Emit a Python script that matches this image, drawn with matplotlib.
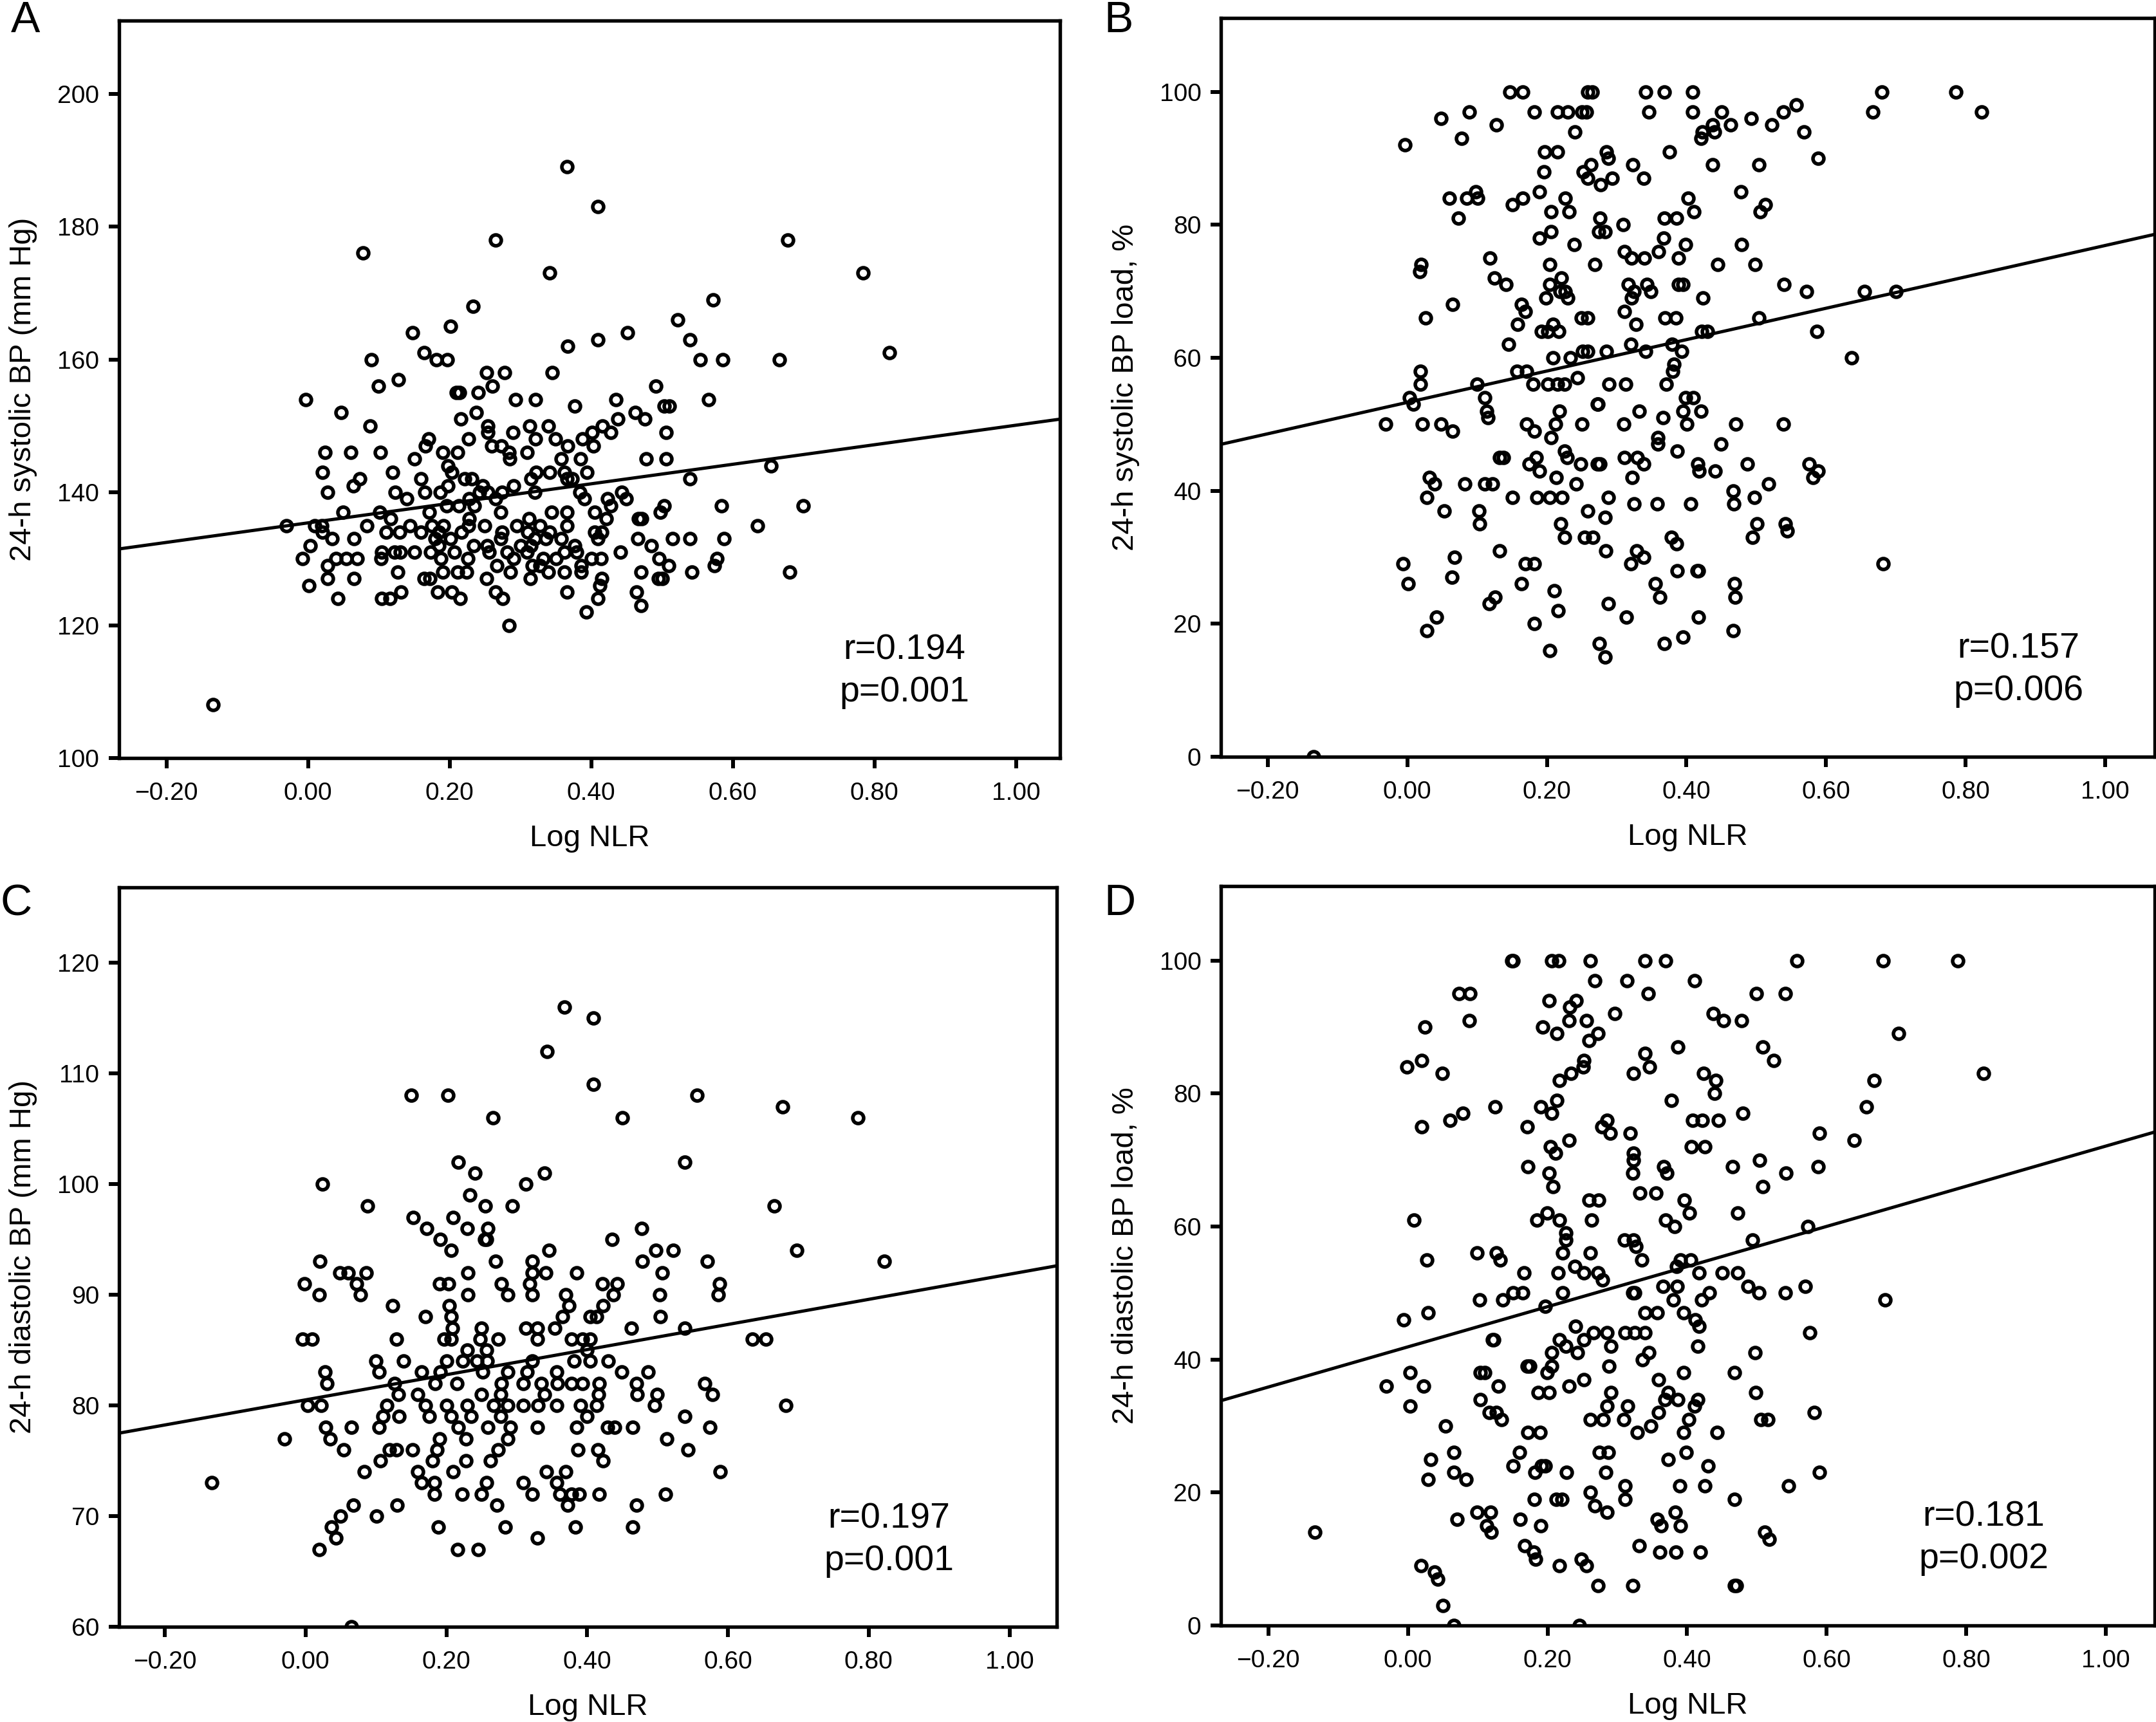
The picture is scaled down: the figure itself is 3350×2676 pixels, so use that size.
import matplotlib
matplotlib.use("Agg")
import matplotlib.pyplot as plt
import numpy as np
from matplotlib.ticker import FuncFormatter

plt.rcParams['font.family'] = ['Liberation Sans', 'DejaVu Sans']

# ---- panel A: 24-h systolic BP (mm Hg) vs Log NLR
a_x = [0.366, 0.409, 0.265, 0.078, 0.678, 0.784, 0.341, 0.233, 0.572, 0.201,
       0.148, 0.522, 0.539, 0.451, 0.409, 0.367, 0.821, 0.089, 0.164, 0.181,
       0.197, 0.554, 0.586, 0.666, 0.099, 0.128, 0.252, 0.278, 0.260, 0.345,
       -0.003, 0.209, 0.214, 0.240, 0.293, 0.321, 0.377, 0.435, 0.491, 0.503,
       0.510, 0.566, 0.047, 0.462, 0.476, 0.238, 0.216, 0.088, 0.254, 0.254,
       0.313, 0.339, 0.289, 0.416, 0.438, 0.428, 0.401, 0.506, 0.227, 0.321,
       0.349, 0.388, 0.170, 0.166, 0.259, 0.273, 0.367, 0.403, 0.024, 0.060,
       0.102, 0.190, 0.211, 0.284, 0.309, 0.150, 0.285, 0.358, 0.385, 0.478,
       0.506, 0.198, 0.020, 0.119, 0.203, 0.322, 0.341, 0.362, 0.394, 0.654,
       0.073, 0.064, 0.159, 0.221, 0.231, 0.315, 0.366, 0.373, 0.539, 0.247,
       0.290, 0.198, 0.028, 0.123, 0.165, 0.187, 0.242, 0.254, 0.274, 0.320,
       0.384, 0.443, 0.139, 0.228, 0.265, 0.390, 0.423, 0.449, 0.584, 0.699,
       0.503, 0.196, 0.213, 0.235, 0.049, 0.101, 0.171, 0.272, 0.344, 0.366,
       0.405, 0.428, 0.498, 0.117, 0.228, 0.312, 0.467, 0.471, -0.031, 0.009,
       0.019, 0.083, 0.144, 0.175, 0.191, 0.227, 0.249, 0.295, 0.328, 0.366,
       0.421, 0.635, 0.020, 0.110, 0.129, 0.159, 0.185, 0.217, 0.274, 0.310,
       0.341, 0.405, 0.415, 0.034, 0.065, 0.179, 0.201, 0.272, 0.320, 0.336,
       0.358, 0.409, 0.466, 0.515, 0.539, 0.588, 0.003, 0.185, 0.234, 0.253,
       0.300, 0.315, 0.377, 0.485, 0.104, 0.122, 0.130, 0.150, 0.173, 0.207,
       0.256, 0.281, 0.309, 0.362, 0.379, 0.441, -0.008, 0.039, 0.054, 0.069,
       0.103, 0.188, 0.226, 0.290, 0.332, 0.350, 0.400, 0.414, 0.496, 0.578,
       0.028, 0.267, 0.317, 0.328, 0.386, 0.509, 0.574, 0.190, 0.211, 0.224,
       0.286, 0.339, 0.362, 0.386, 0.127, 0.470, 0.542, 0.680, 0.028, 0.065,
       0.164, 0.172, 0.252, 0.314, 0.415, 0.495, 0.500, 0.001, 0.412, 0.183,
       0.203, 0.265, 0.366, 0.464, 0.131, 0.042, 0.104, 0.116, 0.215, 0.275,
       0.409, 0.470, 0.393, 0.284, -0.134]
a_y = [189, 183, 178, 176, 178, 173, 173, 168, 169, 165,
       164, 166, 163, 164, 163, 162, 161, 160, 161, 160,
       160, 160, 160, 160, 156, 157, 158, 158, 156, 158,
       154, 155, 155, 155, 154, 154, 153, 154, 156, 153,
       153, 154, 152, 152, 151, 152, 151, 150, 150, 149,
       150, 150, 149, 150, 151, 149, 149, 149, 148, 148,
       148, 148, 148, 147, 147, 147, 147, 147, 146, 146,
       146, 146, 146, 146, 146, 145, 145, 145, 145, 145,
       145, 144, 143, 143, 143, 143, 143, 143, 143, 144,
       142, 141, 142, 142, 142, 142, 142, 142, 142, 141,
       141, 141, 140, 140, 140, 140, 140, 140, 140, 140,
       140, 140, 139, 139, 139, 139, 139, 139, 138, 138,
       138, 138, 138, 138, 137, 137, 137, 137, 137, 137,
       137, 138, 137, 136, 136, 136, 136, 136, 135, 135,
       135, 135, 135, 135, 135, 135, 135, 135, 135, 135,
       136, 135, 134, 134, 134, 134, 134, 134, 134, 134,
       134, 134, 134, 133, 133, 133, 133, 133, 133, 133,
       133, 133, 133, 133, 133, 133, 132, 132, 132, 132,
       132, 132, 132, 132, 131, 131, 131, 131, 131, 131,
       131, 131, 131, 131, 131, 131, 130, 130, 130, 130,
       130, 130, 130, 130, 130, 130, 130, 130, 130, 130,
       129, 129, 129, 129, 129, 129, 129, 128, 128, 128,
       128, 128, 128, 128, 128, 128, 128, 128, 127, 127,
       127, 127, 127, 127, 127, 127, 127, 126, 126, 125,
       125, 125, 125, 125, 125, 124, 124, 124, 124, 124,
       124, 123, 122, 120, 108]

# ---- panel B: 24-h systolic BP load (%), grouped by load value
b_levels = [100, 98, 97, 96, 95, 94, 93, 92, 91, 90, 89, 88, 87, 86, 85, 84, 83, 82,
            81, 80, 79, 78, 77, 76, 75, 74, 73, 72, 71, 70, 69, 68, 67, 66, 65, 64,
            62, 61, 60, 59, 58, 57, 56, 54, 53, 52, 51, 50, 49, 48, 47, 46, 45, 44,
            43, 42, 41, 40, 39, 38, 37, 36, 35, 34, 33, 32, 31, 30, 29, 28, 27, 26,
            25, 24, 23, 22, 21, 20, 19, 18, 17, 16, 15, 0]
b_groups = [
    [0.147, 0.165, 0.259, 0.265, 0.342, 0.368, 0.409, 0.680, 0.786],
    [0.557],
    [0.089, 0.182, 0.215, 0.230, 0.250, 0.257, 0.346, 0.409, 0.450, 0.667, 0.823, 0.539],
    [0.048, 0.493],
    [0.128, 0.463, 0.522, 0.437],
    [0.423, 0.440, 0.240, 0.568],
    [0.421, 0.078],
    [-0.003],
    [0.197, 0.215, 0.285, 0.376],
    [0.288, 0.589],
    [0.263, 0.323, 0.437, 0.504],
    [0.196, 0.252],
    [0.259, 0.294, 0.339],
    [0.277],
    [0.189, 0.478, 0.098],
    [0.060, 0.085, 0.101, 0.165, 0.226, 0.402],
    [0.151, 0.513],
    [0.206, 0.232, 0.411, 0.506],
    [0.073, 0.276, 0.368, 0.386],
    [0.309],
    [0.274, 0.283, 0.206],
    [0.189, 0.367],
    [0.239, 0.399, 0.479],
    [0.311, 0.360],
    [0.118, 0.321, 0.340, 0.389],
    [0.020, 0.204, 0.269, 0.445, 0.498],
    [0.018],
    [0.125, 0.221],
    [0.141, 0.204, 0.317, 0.343, 0.389, 0.395, 0.540],
    [0.219, 0.226, 0.325, 0.349, 0.572, 0.655, 0.700],
    [0.199, 0.230, 0.321, 0.424],
    [0.065, 0.164],
    [0.169, 0.311],
    [0.026, 0.249, 0.259, 0.369, 0.385, 0.504],
    [0.158, 0.209, 0.328],
    [0.192, 0.201, 0.217, 0.422, 0.430, 0.587],
    [0.145, 0.320, 0.379],
    [0.251, 0.259, 0.285, 0.342, 0.393],
    [0.209, 0.234, 0.637],
    [0.382],
    [0.157, 0.171, 0.019, 0.380],
    [0.244],
    [0.100, 0.180, 0.201, 0.215, 0.225, 0.289, 0.313, 0.019, 0.371],
    [0.003, 0.111, 0.399, 0.410],
    [0.009, 0.272, 0.273],
    [0.218, 0.332, 0.395, 0.421, 0.114],
    [0.116, 0.366],
    [-0.031, 0.022, 0.048, 0.171, 0.212, 0.250, 0.310, 0.401, 0.471, 0.539],
    [0.065, 0.182],
    [0.206, 0.359],
    [0.359, 0.449],
    [0.387, 0.225],
    [0.132, 0.138, 0.185, 0.229, 0.311, 0.330],
    [0.175, 0.248, 0.272, 0.276, 0.339, 0.416, 0.487, 0.576],
    [0.189, 0.418, 0.441, 0.589],
    [0.032, 0.213, 0.322, 0.581],
    [0.039, 0.082, 0.111, 0.122, 0.242, 0.518],
    [0.467],
    [0.028, 0.151, 0.186, 0.204, 0.222, 0.288, 0.497],
    [0.325, 0.358, 0.406, 0.468],
    [0.053, 0.103, 0.259],
    [0.283],
    [0.104, 0.220, 0.501, 0.542],
    [0.544],
    [0.225, 0.254, 0.266, 0.495, 0.378],
    [0.386],
    [0.132, 0.284, 0.329],
    [0.068, 0.339],
    [-0.006, 0.169, 0.182, 0.320, 0.682],
    [0.387, 0.415, 0.417],
    [0.064],
    [0.001, 0.164, 0.355, 0.469],
    [0.211],
    [0.126, 0.362, 0.470],
    [0.117, 0.288],
    [0.216],
    [0.042, 0.314, 0.417],
    [0.182],
    [0.028, 0.467],
    [0.395],
    [0.275, 0.368],
    [0.204],
    [0.283],
    [-0.134],
]

# ---- panel C: 24-h diastolic BP (mm Hg), grouped by BP value
c_levels = [116, 115, 112, 109, 108, 107, 106, 102, 101, 100, 99, 98, 97, 96, 95, 94,
            93, 92, 91, 90, 89, 88, 87, 86, 85, 84, 83, 82, 81, 80, 79, 78, 77, 76,
            75, 74, 73, 72, 71, 70, 69, 68, 67, 60]
c_groups = [
    [0.368],
    [0.409],
    [0.343],
    [0.409],
    [0.150, 0.202, 0.556],
    [0.678],
    [0.266, 0.450, 0.785],
    [0.539, 0.217],
    [0.241, 0.339],
    [0.313, 0.024],
    [0.233],
    [0.255, 0.294, 0.088, 0.666],
    [0.153, 0.210],
    [0.172, 0.230, 0.259, 0.477],
    [0.191, 0.254, 0.257, 0.435],
    [0.207, 0.346, 0.498, 0.522, 0.698],
    [0.020, 0.270, 0.322, 0.478, 0.571, 0.822],
    [0.049, 0.061, 0.086, 0.231, 0.322, 0.341, 0.385, 0.507],
    [-0.002, 0.072, 0.190, 0.203, 0.278, 0.318, 0.422, 0.443, 0.588],
    [0.019, 0.078, 0.231, 0.287, 0.322, 0.370, 0.437, 0.503, 0.586],
    [0.124, 0.204, 0.374, 0.423],
    [0.170, 0.207, 0.365, 0.404, 0.413, 0.504],
    [0.209, 0.250, 0.313, 0.329, 0.354, 0.463, 0.539],
    [-0.004, 0.009, 0.129, 0.197, 0.207, 0.248, 0.274, 0.329, 0.378, 0.393, 0.404,
     0.635, 0.654],
    [0.230, 0.257, 0.400],
    [0.100, 0.139, 0.200, 0.223, 0.243, 0.258, 0.322, 0.381, 0.404, 0.430],
    [0.028, 0.104, 0.165, 0.191, 0.252, 0.287, 0.315, 0.357, 0.449, 0.487],
    [0.030, 0.126, 0.184, 0.215, 0.278, 0.309, 0.335, 0.358, 0.378, 0.393, 0.417,
     0.470, 0.567],
    [0.132, 0.159, 0.250, 0.277, 0.339, 0.416, 0.471, 0.499, 0.578],
    [0.003, 0.022, 0.115, 0.170, 0.200, 0.230, 0.267, 0.287, 0.309, 0.330, 0.357,
     0.391, 0.413, 0.496, 0.682],
    [0.110, 0.133, 0.176, 0.207, 0.235, 0.277, 0.400, 0.539],
    [0.029, 0.065, 0.104, 0.217, 0.259, 0.291, 0.329, 0.385, 0.429, 0.439, 0.465, 0.574],
    [-0.030, 0.035, 0.190, 0.228, 0.287, 0.513],
    [0.054, 0.119, 0.129, 0.152, 0.187, 0.274, 0.387, 0.415, 0.543],
    [0.106, 0.180, 0.228, 0.263, 0.423],
    [0.083, 0.159, 0.210, 0.342, 0.370, 0.589],
    [-0.133, 0.165, 0.183, 0.257, 0.309, 0.357],
    [0.183, 0.222, 0.250, 0.322, 0.361, 0.378, 0.389, 0.417, 0.511],
    [0.068, 0.130, 0.272, 0.372, 0.470],
    [0.050, 0.101],
    [0.037, 0.189, 0.284, 0.383, 0.465],
    [0.043, 0.329],
    [0.019, 0.216, 0.245],
    [0.065],
]

# ---- panel D: 24-h diastolic BP load (%), grouped by load value
d_levels = [100, 97, 95, 94, 93, 92, 91, 90, 89, 88, 87, 86, 85, 84, 83, 82, 80, 79,
            78, 77, 76, 75, 74, 73, 72, 71, 70, 69, 68, 66, 65, 64, 62, 61, 60, 59,
            58, 57, 56, 55, 54, 53, 52, 51, 50, 49, 48, 47, 46, 45, 44, 43, 42, 41,
            40, 39, 38, 37, 36, 35, 34, 33, 32, 31, 30, 29, 26, 25, 24, 23, 22, 21,
            20, 19, 18, 17, 16, 15, 14, 13, 12, 11, 10, 9, 8, 7, 6, 3, 0]
d_groups = [
    [0.149, 0.151, 0.206, 0.216, 0.261, 0.340, 0.369, 0.557, 0.681, 0.788],
    [0.268, 0.314, 0.411],
    [0.073, 0.089, 0.344, 0.499, 0.541],
    [0.202, 0.241],
    [0.232],
    [0.296, 0.437],
    [0.088, 0.231, 0.256, 0.452, 0.478],
    [0.024, 0.193],
    [0.213, 0.272, 0.703],
    [0.259],
    [0.387, 0.508],
    [0.340],
    [0.020, 0.252, 0.524],
    [-0.002, 0.251, 0.346],
    [0.049, 0.234, 0.323, 0.424, 0.825],
    [0.217, 0.441, 0.668],
    [0.439],
    [0.213, 0.377],
    [0.125, 0.190, 0.657],
    [0.206, 0.079, 0.480],
    [0.060, 0.285, 0.408, 0.422, 0.445],
    [0.020, 0.171, 0.278],
    [0.290, 0.318, 0.590],
    [0.231, 0.639],
    [0.204, 0.406, 0.425],
    [0.211, 0.323],
    [0.323, 0.504],
    [0.172, 0.366, 0.465, 0.588],
    [0.202, 0.322, 0.371, 0.542],
    [0.208, 0.508],
    [0.332, 0.355],
    [0.259, 0.273, 0.396],
    [0.199, 0.403, 0.472],
    [0.009, 0.185, 0.217, 0.263, 0.369],
    [0.382, 0.573],
    [0.226],
    [0.310, 0.323, 0.494, 0.226],
    [0.327],
    [0.099, 0.127, 0.222, 0.261],
    [0.027, 0.132, 0.335, 0.390, 0.405],
    [0.239, 0.385],
    [0.166, 0.215, 0.252, 0.272, 0.417, 0.450, 0.472],
    [0.279],
    [0.365, 0.386, 0.487, 0.569],
    [0.151, 0.164, 0.222, 0.322, 0.325, 0.432, 0.503, 0.541],
    [0.103, 0.136, 0.380, 0.421, 0.684],
    [0.197],
    [0.029, 0.340, 0.357, 0.395],
    [-0.006, 0.412],
    [0.240, 0.417],
    [0.266, 0.285, 0.311, 0.325, 0.340, 0.576],
    [0.121, 0.123, 0.217, 0.252],
    [0.226, 0.291, 0.415],
    [0.206, 0.243, 0.345, 0.497],
    [0.336],
    [0.171, 0.175, 0.206, 0.288],
    [0.003, 0.104, 0.110, 0.199, 0.395, 0.468],
    [0.252, 0.359],
    [-0.031, 0.022, 0.129, 0.231],
    [0.187, 0.202, 0.291, 0.373, 0.498],
    [0.104, 0.368, 0.387, 0.415],
    [0.003, 0.285, 0.315, 0.411],
    [0.116, 0.127, 0.359, 0.582],
    [0.134, 0.261, 0.280, 0.309, 0.402, 0.506, 0.516],
    [0.054, 0.348],
    [0.172, 0.189, 0.329, 0.395, 0.443],
    [0.066, 0.160, 0.274, 0.287, 0.399],
    [0.033, 0.373],
    [0.151, 0.191, 0.197, 0.430],
    [0.066, 0.182, 0.227, 0.283, 0.590],
    [0.029, 0.083],
    [0.311, 0.389, 0.425, 0.545],
    [0.261],
    [0.181, 0.212, 0.221, 0.311, 0.468],
    [0.268],
    [0.099, 0.118, 0.285, 0.383],
    [0.070, 0.161, 0.357],
    [0.113, 0.190, 0.363, 0.390],
    [-0.133, 0.119, 0.511],
    [0.518],
    [0.167, 0.331],
    [0.180, 0.361, 0.384, 0.419],
    [0.183, 0.248],
    [0.019, 0.217, 0.256],
    [0.038],
    [0.043],
    [0.272, 0.322, 0.468, 0.471],
    [0.050],
    [0.066, 0.246],
]

# fitted lines (intercept, slope) as drawn in the figure
fit_a = (135.4, 14.7)
fit_b = (53.3, 23.6)
fit_c = (80.5, 11.35)
fit_d = (41.9, 30.2)

stats_r = ["r=0.194", "r=0.157", "r=0.197", "r=0.181"]
stats_p = ["p=0.001", "p=0.006", "p=0.001", "p=0.002"]
ylabels = ["24-h systolic BP (mm Hg)", "24-h systolic BP load, %",
           "24-h diastolic BP (mm Hg)", "24-h diastolic BP load, %"]
letters = ["A", "B", "C", "D"]
x_ticks = [-0.2, 0.0, 0.2, 0.4, 0.6, 0.8, 1.0]
y_ticks_a = [100, 120, 140, 160, 180, 200]
y_ticks_b = [0, 20, 40, 60, 80, 100]
y_ticks_c = [60, 70, 80, 90, 100, 110, 120]
y_ticks_d = [0, 20, 40, 60, 80, 100]


def flatten(levels, groups):
    xs, ys = [], []
    for lv, g in zip(levels, groups):
        xs += g
        ys += [lv] * len(g)
    return xs, ys


b_x, b_y = flatten(b_levels, b_groups)
c_x, c_y = flatten(c_levels, c_groups)
d_x, d_y = flatten(d_levels, d_groups)

fig = plt.figure(figsize=(33.5, 26.76), dpi=100)

panels = [
    ([0.0552, 0.5598, 0.4364, 0.4282], a_x, a_y, fit_a, (-0.267, 1.062), (100, 211), y_ticks_a, 0.835),
    ([0.5663, 0.5605, 0.4331, 0.4290], b_x, b_y, fit_b, (-0.267, 1.071), (0, 111.1), y_ticks_b, 0.854),
    ([0.0552, 0.0553, 0.4349, 0.4294], c_x, c_y, fit_c, (-0.265, 1.067), (60, 126.8), y_ticks_c, 0.821),
    ([0.5663, 0.0561, 0.4331, 0.4293], d_x, d_y, fit_d, (-0.268, 1.070), (0, 111.2), y_ticks_d, 0.817),
]

fmt = FuncFormatter(lambda v, pos: f"{v:.2f}".replace("-", "\u2212"))

for i, (pos, xs, ys, fit, xlim, ylim, yt, tx) in enumerate(panels):
    ax = fig.add_axes(pos)
    ax.plot(xs, ys, linestyle='none', marker='o', markersize=12.2,
            markerfacecolor='none', markeredgecolor='black', markeredgewidth=4.0)
    xl = np.array(xlim)
    ax.plot(xl, fit[0] + fit[1] * xl, color='black', linewidth=3.6)
    ax.set_xlim(xlim)
    ax.set_ylim(ylim)
    ax.set_xticks(x_ticks)
    ax.xaxis.set_major_formatter(fmt)
    ax.set_yticks(yt)
    for s in ax.spines.values():
        s.set_linewidth(3.9)
    ax.tick_params(direction='out', length=11.5, width=4.3, labelsize=28)
    ax.tick_params(axis='y', pad=10.5)
    ax.tick_params(axis='x', pad=15)
    ax.set_xlabel("Log NLR", fontsize=34)
    ax.set_ylabel(ylabels[i], fontsize=34)
    ax.xaxis.set_label_coords(0.5, -0.09)
    ax.yaxis.set_label_coords(-0.087, 0.5)
    ax.text(tx, 0.134, stats_r[i], transform=ax.transAxes, fontsize=40,
            ha='center', va='baseline')
    ax.text(tx, 0.077, stats_p[i], transform=ax.transAxes, fontsize=40,
            ha='center', va='baseline')

fig.text(0.005, 0.9813, letters[0], fontsize=49, ha='left', va='baseline')
fig.text(0.512, 0.9813, letters[1], fontsize=49, ha='left', va='baseline')
fig.text(0.0, 0.4686, letters[2], fontsize=49, ha='left', va='baseline')
fig.text(0.512, 0.4686, letters[3], fontsize=49, ha='left', va='baseline')

fig.savefig("out.png", dpi=100, facecolor='white')
